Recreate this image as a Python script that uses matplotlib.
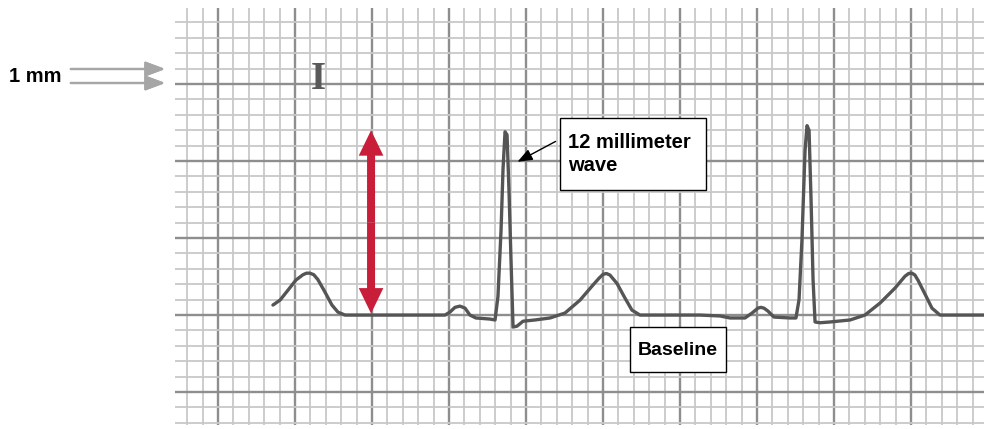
import numpy as np
import matplotlib.pyplot as plt
from matplotlib.patches import Rectangle

# ECG trace, read from the strip (time and amplitude both in mm of paper)
t_mm = [3.57, 4.03, 4.55, 5.06, 5.52, 5.75, 5.97, 6.22, 6.49, 6.95, 7.40, 7.79, 8.25,
        14.74, 15.06, 15.39, 15.71, 16.04, 16.36, 16.75, 17.66, 17.99,
        18.18, 18.38, 18.51, 18.64, 18.77, 18.90, 19.03, 19.16, 19.42, 19.81,
        20.58, 21.56, 22.53, 23.51, 24.35, 24.75, 25.00, 25.22, 25.45, 25.91, 26.43, 26.88,
        27.40, 31.30, 32.60, 33.25, 34.22, 34.68, 35.06, 35.25, 35.45, 35.71, 36.10,
        37.14, 37.53, 37.73, 37.92, 38.12, 38.25, 38.38, 38.51, 38.64, 38.77,
        39.09, 39.74, 41.04, 42.01, 42.99, 43.96, 44.61, 44.85, 45.06, 45.25, 45.45, 45.91,
        46.36, 46.88, 49.74]
amp_mm = [0.65, 0.97, 1.62, 2.27, 2.62, 2.72, 2.72, 2.62, 2.30, 1.49, 0.65, 0.19, 0.0,
          0.0, 0.19, 0.50, 0.58, 0.45, 0.0, -0.19, -0.26, -0.32,
          1.2, 5.5, 9.5, 11.9, 11.7, 8.0, 3.5, -0.78, -0.72, -0.40,
          -0.32, -0.19, 0.13, 0.97, 1.95, 2.40, 2.64, 2.70, 2.60, 2.05, 1.10, 0.32,
          0.0, 0.0, -0.06, -0.19, -0.19, 0.13, 0.45, 0.50, 0.45, 0.26, -0.13,
          -0.19, -0.19, 1.0, 4.9, 10.7, 12.3, 12.0, 7.5, 2.3, -0.45,
          -0.50, -0.45, -0.32, 0.0, 0.78, 1.75, 2.52, 2.70, 2.72, 2.60, 2.27, 1.36,
          0.45, 0.0, 0.0]

wave_height = 12.0      # mm, the red arrow
wave_label = "12 millimeter\nwave"
base_label = "Baseline"

fig = plt.figure(figsize=(9.84, 4.29), dpi=100)
ax = fig.add_axes([175 / 984, 4 / 429, 809 / 984, 417 / 429])
ax.set_xlim(-2.79, 49.74)
ax.set_ylim(-7.14, 19.94)

# paper grid: 1 mm minor, 5 mm major
ax.set_xticks(np.arange(0, 50, 5))
ax.set_xticks(np.arange(-2, 50, 1), minor=True)
ax.set_yticks(np.arange(-5, 20, 5))
ax.set_yticks(np.arange(-7, 20, 1), minor=True)
ax.grid(which="minor", color="#c8c8c8", lw=1.3)
ax.grid(which="major", color="#8e8e8e", lw=1.7)
ax.tick_params(which="both", length=0, labelbottom=False, labelleft=False)
for s in ax.spines.values():
    s.set_visible(False)
ax.set_axisbelow(True)

ax.plot(t_mm, amp_mm, color="#555555", lw=2.4, solid_joinstyle="round",
        solid_capstyle="round", zorder=3)

# red double arrow for the wave height
mid = wave_height / 2
for y0, dy in [(mid, wave_height - mid), (mid, -mid + 0.1)]:
    ax.arrow(9.94, y0, 0, dy, width=0.52, head_width=1.6, head_length=1.65,
             length_includes_head=True, color="#c81e3a", lw=0, zorder=4)

# lead label
ax.text(6.5, 15.3, "I", family="Liberation Serif", weight="bold", fontsize=28,
        color="#5a5a5a", ha="center", va="center", zorder=4)

# label boxes
ax.add_patch(Rectangle((22.2, 8.1), 9.5, 4.7, fc="white", ec="black", lw=1.0, zorder=5))
ax.text(22.7, 10.45, wave_label, family="Liberation Sans", weight="bold", fontsize=14.5,
        ha="left", va="center", linespacing=1.3, zorder=6)
ax.annotate("", xy=(19.29, 9.87), xytext=(22.08, 11.36),
            arrowprops=dict(arrowstyle="-|>,head_length=0.9,head_width=0.35",
                            color="black", lw=1.0), zorder=6)

ax.add_patch(Rectangle((26.75, -3.70), 6.24, 2.92, fc="white", ec="black", lw=1.0, zorder=5))
ax.text(29.87, -2.27, base_label, family="Liberation Sans", weight="bold", fontsize=14,
        ha="center", va="center", zorder=6)

# "1 mm" marker at the left
fig.text(9 / 984, 1 - 76 / 429, "1 mm", family="Liberation Sans", weight="bold",
         fontsize=14.5, ha="left", va="center")
for yy in [69, 83]:
    fig.add_artist(plt.annotate("", xy=(168, 429 - yy), xytext=(68, 429 - yy),
                                xycoords="figure pixels", textcoords="figure pixels",
                                arrowprops=dict(arrowstyle="-|>,head_length=1.2,head_width=0.45",
                                                color="#a6a6a6", lw=1.6)))

fig.savefig("out.png", dpi=100)
